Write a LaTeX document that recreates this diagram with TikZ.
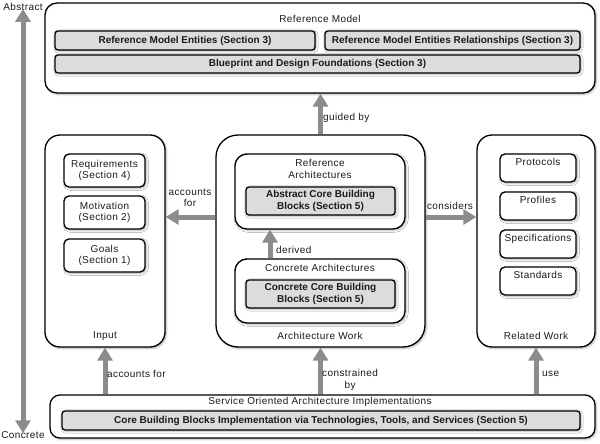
\documentclass[tikz,border=0pt]{standalone}
\usepackage{fontspec}
\setmainfont{Liberation Sans}
\newfontfamily\lblfont{Liberation Sans}[LetterSpace=4]
\usetikzlibrary{arrows.meta, positioning, calc, shadows.blur}
\definecolor{arrowgray}{HTML}{8C8C8C}
\definecolor{blockgray}{HTML}{DCDCDC}
\definecolor{inkdark}{HTML}{1A1A1A}
\tikzset{
  lbl/.style={font=\lblfont\fontsize{10}{11.5}\selectfont, text=inkdark, align=center, inner sep=0pt},
  panel/.style={draw=black, line width=1.3pt, rounded corners=#1, fill=white, inner sep=0pt,
                blur shadow={shadow xshift=1.2pt, shadow yshift=-1.2pt, shadow blur steps=4, shadow opacity=35}},
  panel/.default=12pt,
  block/.style={draw=black, line width=1.3pt, rounded corners=3pt, fill=blockgray, inner sep=0pt,
                font=\fontsize{10}{11.5}\selectfont\bfseries, text=inkdark, align=center,
                blur shadow={shadow xshift=1pt, shadow yshift=-1pt, shadow blur steps=3, shadow opacity=35}},
  flow/.style={-{Triangle[length=13pt, width=15pt]}, line width=5pt, draw=arrowgray},
}

\begin{document}
\begin{tikzpicture}[x=1pt, y=-1pt,
  sized/.style 2 args={minimum width=#1, minimum height=#2}]
  \useasboundingbox (0,0) rectangle (600,444);
  % reference model on top
  \node[panel, sized={550pt}{90pt}] (refmodel) at (320,48) {};
  \node[lbl] (refmodeltitle) at (320,19) {Reference Model};
  \node[block, sized={260pt}{19pt}] (rme) at (185,40.5) {Reference Model Entities (Section 3)};
  \node[block, sized={255pt}{19pt}] (rmer) at (452.5,40.5) {Reference Model Entities Relationships (Section 3)};
  \node[block, sized={525pt}{18pt}] (blueprint) at (317.5,64) {Blueprint and Design Foundations (Section 3)};
  % the three middle panels
  \node[panel=15pt, sized={120pt}{212pt}] (input) at (105,241) {};
  \node[panel=22pt, sized={209pt}{212pt}] (archwork) at (320.5,241) {};
  \node[panel=15pt, sized={118pt}{212pt}] (relwork) at (536,241) {};
  \node[lbl] (inputtitle) at (105,336) {Input};
  \node[lbl] (archworktitle) at (320,336) {Architecture Work};
  \node[lbl] (relworktitle) at (536,336) {Related Work};
  \foreach \name/\y/\txt in {req/170.5/Requirements, mot/212.5/Motivation, goals/255.5/Goals} {
    \node[panel=5pt, sized={81pt}{33pt}, lbl] (\name) at (104.5,\y) {};
  }
  \node[lbl] at (req) {Requirements\\(Section 4)};
  \node[lbl] at (mot) {Motivation\\(Section 2)};
  \node[lbl] at (goals) {Goals\\(Section 1)};
  \foreach \name/\y/\txt in {proto/168/Protocols, prof/206/Profiles, spec/244/Specifications, std/281/Standards} {
    \node[panel=5pt, sized={76pt}{28pt}] (\name) at (538,\y) {};
    \node[lbl, anchor=north] (\name txt) at ([yshift=-5pt]\name.north) {\txt};
  }
  % architectures inside architecture work
  \node[panel=12pt, sized={170pt}{75pt}] (refarch) at (320,191.5) {};
  \node[lbl] (refarchtitle) at (320,169) {Reference\\Architectures};
  \node[block, sized={149pt}{28pt}] (abscbb) at (320.5,201) {Abstract Core Building\\Blocks (Section 5)};
  \node[panel=12pt, sized={170pt}{64pt}] (concarch) at (320,291) {};
  \node[lbl] (concarchtitle) at (320,268) {Concrete Architectures};
  \node[block, sized={149pt}{28pt}] (concbb) at (320.5,294) {Concrete Core Building\\Blocks (Section 5)};
  % implementations at the bottom
  \node[panel=10pt, sized={545pt}{43pt}] (soa) at (322.5,416.5) {};
  \node[lbl] (soatitle) at (320,402) {Service Oriented Architecture Implementations};
  \node[block, sized={518pt}{19pt}] (impl) at (321,420.5) {Core Building Blocks Implementation via Technologies, Tools, and Services (Section 5)};
  % connectors
  \draw[flow] (archwork.north) -- (archwork.north |- refmodel.south);
  \draw[flow] ([xshift=-50pt]concarch.north) -- ([xshift=-50pt]refarch.south);
  \draw[flow] ([yshift=24pt]archwork.west) -- ([yshift=24pt]archwork.west -| input.east);
  \draw[flow] ([yshift=24pt]archwork.east) -- ([yshift=24pt]archwork.east -| relwork.west);
  \draw[flow] (soa.north -| input.south) -- (input.south);
  \draw[flow] (soa.north -| archwork.south) -- (archwork.south);
  \draw[flow] (soa.north -| relwork.south) -- (relwork.south);
  \node[lbl, anchor=west] (guided) at (323,118) {guided by};
  \node[lbl, anchor=west] (derived) at (276,250) {derived};
  \node[lbl] (accleft) at (190,198) {accounts\\for};
  \node[lbl] (considers) at (450,206) {considers};
  \node[lbl, anchor=west] (accbottom) at (107,374) {accounts for};
  \node[lbl, anchor=west] (constrained) at (322,380) {constrained\\by};
  \node[lbl, anchor=west] (use) at (542,374) {use};
  % abstraction axis
  \node[lbl] (abstract) at (23,7) {Abstract};
  \node[lbl] (concrete) at (23,435) {Concrete};
  \draw[flow, {Triangle[length=13pt, width=15pt]}-{Triangle[length=13pt, width=15pt]}]
    ([yshift=-2pt]concrete.north) -- ([yshift=2pt]abstract.south);
\end{tikzpicture}
\end{document}
